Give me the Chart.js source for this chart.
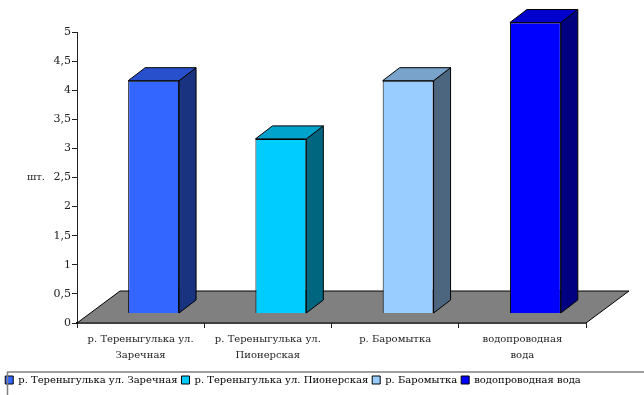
<!DOCTYPE html>
<html lang="ru">
<head>
<meta charset="utf-8">
<title>Источники воды</title>
<script src="https://cdn.jsdelivr.net/npm/chart.js@4"></script>
<style>
  html, body { margin: 0; padding: 0; background: #fff; }
  canvas { display: block; }
</style>
</head>
<body>
<canvas id="waterChart" width="644" height="395"></canvas>
<script>
const categories = ['р. Тереныгулька ул. Заречная', 'р. Тереныгулька ул. Пионерская', 'р. Баромытка', 'водопроводная вода'];
const tickLabels = [['р. Тереныгулька ул.', 'Заречная'], ['р. Тереныгулька ул.', 'Пионерская'], ['р. Баромытка'], ['водопроводная', 'вода']];
const values = [4, 3, 4, 5];
const frontColors = ['#3366ff', '#00ccff', '#99ccff', '#0000ff'];
const topColors = ['#2850cc', '#00a3cc', '#7aa3cc', '#0000cc'];
const sideColors = ['#1a3380', '#006680', '#4d6680', '#000080'];
const axisTitle = 'шт.';

const fontFamily = '"DejaVu Serif", serif';
const textColor = '#222';

// depth of the floor, and how far the bars sit back on it
const floorDepth = { x: 43, y: -32 };
const barShift = { x: 13, y: -9.5 };
const barDepth = { x: 17, y: -13 };

function fillFace(ctx, points, color) {
    ctx.beginPath();
    points.forEach((p, i) => i ? ctx.lineTo(p[0], p[1]) : ctx.moveTo(p[0], p[1]));
    ctx.closePath();
    ctx.fillStyle = color;
    ctx.fill();
    ctx.lineWidth = 1;
    ctx.strokeStyle = '#000';
    ctx.stroke();
}

const box3d = {
    id: 'box3d',
    beforeDatasetsDraw(chart) {
        const ctx = chart.ctx;
        const x = chart.scales.x;
        const zero = chart.scales.y.getPixelForValue(0);

        // grey floor under the bars
        ctx.save();
        fillFace(ctx, [
            [x.left, zero],
            [x.left + floorDepth.x, zero + floorDepth.y],
            [x.right + floorDepth.x, zero + floorDepth.y],
            [x.right, zero]
        ], '#808080');
        ctx.restore();

        // front faces are drawn by the library, moved onto the floor
        ctx.save();
        ctx.translate(barShift.x, barShift.y);
    },
    afterDatasetsDraw(chart) {
        const ctx = chart.ctx;
        chart.getDatasetMeta(0).data.forEach((bar, i) => {
            const p = bar.getProps(['x', 'y', 'base', 'width'], true);
            const left = p.x - p.width / 2;
            const right = p.x + p.width / 2;
            fillFace(ctx, [
                [right, p.y],
                [right + barDepth.x, p.y + barDepth.y],
                [right + barDepth.x, p.base + barDepth.y],
                [right, p.base]
            ], sideColors[i]);
            fillFace(ctx, [
                [left, p.y],
                [left + barDepth.x, p.y + barDepth.y],
                [right + barDepth.x, p.y + barDepth.y],
                [right, p.y]
            ], topColors[i]);
        });
        ctx.restore();
    },
    afterDraw(chart) {
        const ctx = chart.ctx;
        const y = chart.scales.y;
        const legend = chart.legend;

        ctx.save();
        ctx.font = '10px ' + fontFamily;
        ctx.fillStyle = textColor;
        ctx.textAlign = 'left';
        ctx.textBaseline = 'middle';
        ctx.fillText(axisTitle, 27, (y.top + y.bottom) / 2);

        // frame around the legend
        ctx.strokeStyle = '#808080';
        ctx.lineWidth = 1.5;
        ctx.strokeRect(7.5, legend.top + 1, 640, legend.height);
        ctx.restore();
    }
};

new Chart(document.getElementById('waterChart'), {
    type: 'bar',
    data: {
        labels: tickLabels,
        datasets: [{
            data: values,
            backgroundColor: frontColors,
            borderColor: '#000',
            borderWidth: 1,
            categoryPercentage: 1,
            barPercentage: 0.4,
            clip: false
        }]
    },
    options: {
        responsive: false,
        animation: false,
        layout: { padding: { top: 32, right: 58 } },
        scales: {
            x: {
                grid: { drawOnChartArea: false, tickLength: 5, color: textColor },
                border: { color: '#000', width: 1.5 },
                ticks: { maxRotation: 0, autoSkip: false, color: textColor, padding: 4, font: { family: fontFamily, size: 10, lineHeight: 1.55 } },
                afterFit(scale) { scale.height = 48; }
            },
            y: {
                min: 0,
                max: 5,
                grid: { drawOnChartArea: false, tickLength: 5, color: textColor },
                border: { color: textColor, width: 1 },
                ticks: {
                    stepSize: 0.5,
                    padding: 1,
                    color: textColor,
                    font: { family: fontFamily, size: 11 },
                    callback: (v) => String(v).replace('.', ',')
                },
                afterFit(scale) { scale.width = 77; }
            }
        },
        plugins: {
            title: { display: false },
            tooltip: { enabled: false },
            legend: {
                position: 'bottom',
                labels: {
                    boxWidth: 8,
                    boxHeight: 8,
                    padding: 4,
                    color: textColor,
                    font: { family: fontFamily, size: 10 },
                    generateLabels: () => categories.map((name, i) => ({
                        text: name,
                        fillStyle: frontColors[i],
                        strokeStyle: '#000',
                        lineWidth: 1,
                        index: i,
                        datasetIndex: 0
                    }))
                }
            }
        }
    },
    plugins: [box3d]
});
</script>
</body>
</html>
